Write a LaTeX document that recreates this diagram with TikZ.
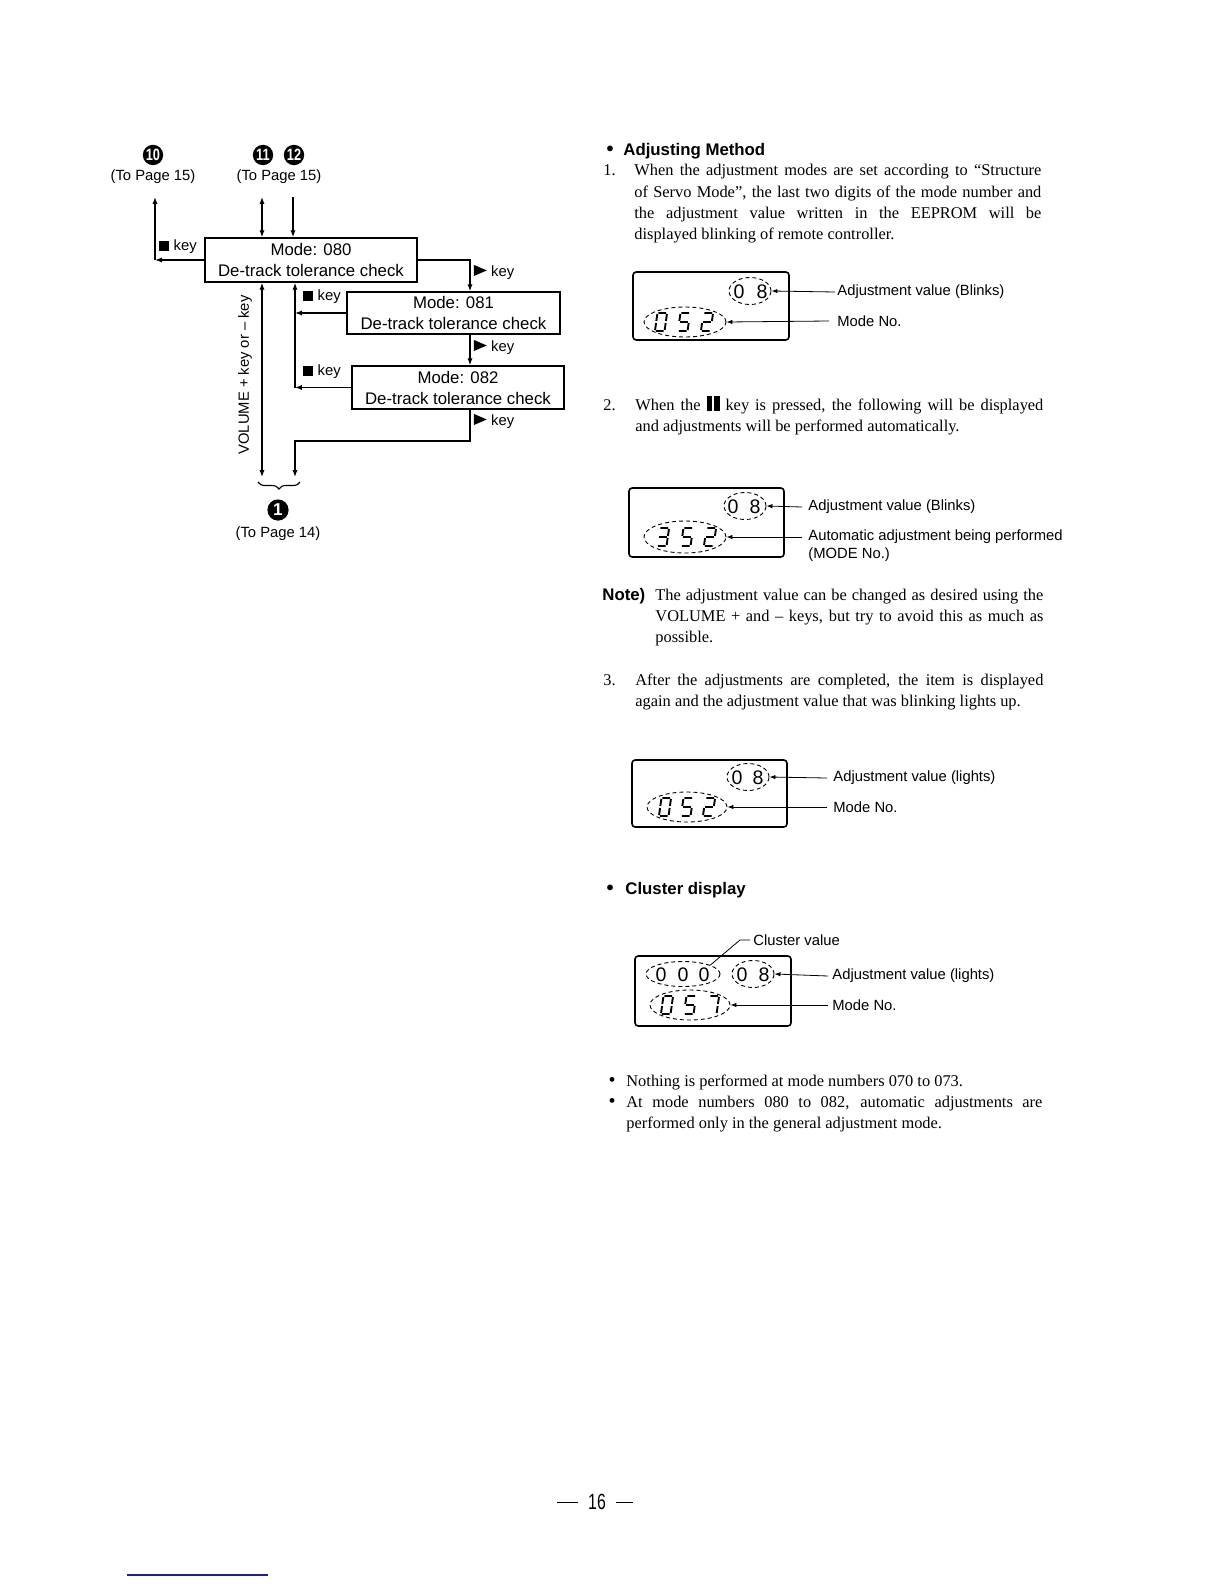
\documentclass[tikz,border=0pt]{standalone}
\usepackage{fontspec}
\setmainfont{Liberation Serif}
\setsansfont{Liberation Sans}
\usetikzlibrary{arrows.meta,decorations.pathreplacing,shapes.geometric}
\definecolor{pageblue}{RGB}{30,30,150}
\newcommand{\fzBody}{\rmfamily\fontsize{8.2}{10.5}\selectfont}
\newcommand{\fzMode}{\sffamily\fontsize{8.4}{10.5}\selectfont}
\newcommand{\fzKey}{\sffamily\fontsize{7.4}{8.5}\selectfont}
\newcommand{\fzLab}{\sffamily\fontsize{7.4}{8.5}\selectfont}
\newcommand{\fzHead}{\sffamily\bfseries\fontsize{8.4}{10}\selectfont}
\newcommand{\fzDig}{\sffamily\fontsize{9.8}{10}\selectfont}
\newcommand{\sqkey}{\rule{5pt}{5pt}\hspace{2.2pt}key}
\newcommand{\playkey}{\tikz[baseline=0pt]\fill (0pt,0pt)--(6.5pt,2.8pt)--(0pt,5.6pt)--cycle;\hspace{2.2pt}key}
\newcommand{\pausesym}{\rule[-0.3pt]{2.8pt}{7.3pt}\hspace{0.9pt}\rule[-0.3pt]{2.8pt}{7.3pt}}
% seven segment pieces (px, y down)
\newcommand{\sgA}{(-3.8,-9)--(3.8,-9)}
\newcommand{\sgB}{(4.8,-8)--(4.8,-1)}
\newcommand{\sgC}{(4.8,1)--(4.8,8)}
\newcommand{\sgD}{(-3.8,9)--(3.8,9)}
\newcommand{\sgE}{(-4.8,1)--(-4.8,8)}
\newcommand{\sgF}{(-4.8,-8)--(-4.8,-1)}
\newcommand{\sgG}{(-3.8,0)--(3.8,0)}
\newcommand{\dgZero}{\sgA \sgB \sgC \sgD \sgE \sgF}
\newcommand{\dgTwo}{\sgA \sgB \sgG \sgE \sgD}
\newcommand{\dgThree}{\sgA \sgB \sgG \sgC \sgD}
\newcommand{\dgFive}{\sgA \sgF \sgG \sgC \sgD}
\newcommand{\dgSeven}{\sgA \sgB \sgC}
\newcommand{\segdig}[3]{\begin{scope}[shift={(#1,#2)},xslant=0.14]\draw[segline] #3;\end{scope}}
\tikzset{
  conn/.style={line width=0.55pt},
  arr/.style={conn,-{Latex[length=3.4pt,width=2.5pt]}},
  dblarr/.style={conn,{Latex[length=3.4pt,width=2.5pt]}-{Latex[length=3.4pt,width=2.5pt]}},
  modebox/.style={draw,line width=0.75pt,inner sep=0pt,align=center,font=\fzMode},
  keylab/.style={font=\fzKey,inner sep=0pt},
  tolab/.style={font=\fzKey,inner sep=0pt},
  blackcirc/.style={circle,fill=black,text=white,inner sep=0pt,font=\sffamily\bfseries\fontsize{8.2}{9}\selectfont},
  txt/.style={font=\fzBody,inner sep=0pt,anchor=base west},
  head/.style={font=\fzHead,inner sep=0pt,anchor=west},
  dispbox/.style={draw,line width=0.8pt,rounded corners=1.6pt,inner sep=0pt},
  dashell/.style={ellipse,draw,dash pattern=on 2pt off 1.5pt,line width=0.45pt,inner sep=0pt},
  digit/.style={font=\fzDig,inner sep=0pt},
  segline/.style={line width=0.95pt,line cap=butt},
  lab/.style={font=\fzLab,inner sep=0pt,anchor=west},
  darr/.style={line width=0.4pt,-{Latex[length=3pt,width=2.2pt]}},
  leader/.style={line width=0.4pt}
}
\begin{document}
\begin{tikzpicture}[x=0.5pt,y=-0.5pt]
\useasboundingbox (0,0) rectangle (1224,1584);
\fill[white] (0,0) rectangle (1224,1584);

% ================= left flow diagram =================
\node[blackcirc,minimum size=10.2pt] (c10) at (153,155) {\scalebox{0.78}[1]{10}};
\node[tolab] (tp10) at (153,177) {(To Page 15)};
\node[blackcirc,minimum size=10.2pt] (c11) at (263,155) {\scalebox{0.78}[1]{11}};
\node[blackcirc,minimum size=10.2pt] (c12) at (294,155) {\scalebox{0.78}[1]{12}};
\node[tolab] (tp11) at (279,177) {(To Page 15)};

\node[modebox,minimum width=106pt,minimum height=22pt] (m80) at (311,260) {Mode: 080\\De-track tolerance check};
\node[modebox,minimum width=106.5pt,minimum height=21pt] (m81) at (453.5,313) {Mode: 081\\De-track tolerance check};
\node[modebox,minimum width=106pt,minimum height=21.5pt] (m82) at (458,387.5) {Mode: 082\\De-track tolerance check};

\node[keylab] (k1) at (178,247) {\sqkey};
\node[keylab] (k2) at (322,297) {\sqkey};
\node[keylab] (k3) at (322,372) {\sqkey};
\node[keylab] (p1) at (494,272) {\playkey};
\node[keylab] (p2) at (494,347) {\playkey};
\node[keylab] (p3) at (494,421) {\playkey};

\coordinate (k10) at (155,260);
\coordinate (t10) at (155,197);
\coordinate (t11) at (262,197);
\coordinate (t12) at (293,197);
\coordinate (vx) at (470,260);
\coordinate (lx) at (295,313);
\coordinate (jt) at (470,441);
\coordinate (bt) at (295,477);
\coordinate (vb) at (262,477);

\draw[arr] (m80.west) -- (k10);
\draw[arr] (k10) -- (t10);
\draw[dblarr] (t11) -- (t11 |- m80.north);
\draw[arr] (t12) -- (t12 |- m80.north);
\draw[arr] (m80.east) -- (vx) -- (vx |- m81.north);
\draw[arr] (vx |- m81.south) -- (vx |- m82.north);
\draw[arr] (m81.west) -- (m81.west -| lx);
\draw[arr] (m82.west) -- (m82.west -| lx);
\draw[arr] (m82.west -| lx) -- (lx |- m80.south);
\draw[arr] (vx |- m82.south) -- (jt) -- (jt -| lx) -- (bt);
\draw[dblarr] (vb |- m80.south) -- (vb);

\node[keylab,rotate=90] (vol) at (245,375) {VOLUME + key or -- key};
\draw[conn,decorate,decoration={brace,mirror,amplitude=3.5pt}] (258,482) -- (300,482);
\node[blackcirc,minimum size=10.6pt,font=\sffamily\bfseries\fontsize{8.6}{9}\selectfont] (c1) at (278,510) {1};
\node[tolab] (tp14) at (278,534) {(To Page 14)};

% ================= right column =================
\node[font=\sffamily\bfseries\fontsize{10}{10}\selectfont,inner sep=0pt] (b1) at (610,151) {\textbullet};
\node[head] (h1) at (623,151) {Adjusting Method};

\node[txt] (n1) at (603,176) {1.};
\node[txt] (l1a) at (634,176) {\makebox[203.5pt][s]{When the adjustment modes are set according to “Structure}};
\node[txt] (l1b) at (634,197) {\makebox[203.5pt][s]{of Servo Mode”, the last two digits of the mode number and}};
\node[txt] (l1c) at (634,218) {\makebox[203.5pt][s]{the adjustment value written in the EEPROM will be}};
\node[txt] (l1d) at (634,239) {displayed blinking of remote controller.};

% display 1
\node[dispbox,minimum width=78pt,minimum height=34pt] (d1) at (711,306) {};
\node[digit] (d1x) at (739,292) {0};
\node[digit] (d1y) at (762,292) {8};
\node[dashell,minimum width=21pt,minimum height=13.5pt] (e1a) at (750,291) {};
\segdig{661}{322}{\dgZero}
\segdig{684}{322}{\dgFive}
\segdig{707}{322}{\dgTwo}
\node[dashell,minimum width=41pt,minimum height=15pt] (e1b) at (685,322) {};
\node[lab] (a1) at (837,292) {Adjustment value (Blinks)};
\node[lab] (a2) at (837,321) {Mode No.};
\draw[darr] ([xshift=-1pt]a1.west) -- (e1a.east);
\draw[darr] ([xshift=-4pt]a2.west) -- (e1b.east);

\node[txt] (n2) at (603,410) {2.};
\node[txt] (l2a) at (635,410) {\makebox[204pt][s]{When the \pausesym{} key is pressed, the following will be displayed}};
\node[txt] (l2b) at (635,431) {and adjustments will be performed automatically.};

% display 2
\node[dispbox,minimum width=77.5pt,minimum height=34.5pt] (d2) at (706.5,522.5) {};
\node[digit] (d2x) at (733,507) {0};
\node[digit] (d2y) at (755,507) {8};
\node[dashell,minimum width=21pt,minimum height=13.5pt] (e2a) at (745,506) {};
\segdig{663}{537}{\dgThree}
\segdig{687}{537}{\dgFive}
\segdig{710}{537}{\dgTwo}
\node[dashell,minimum width=41pt,minimum height=16pt] (e2b) at (685,537) {};
\node[lab] (b2a) at (808,507) {Adjustment value (Blinks)};
\node[lab] (b2b) at (808,537) {Automatic adjustment being performed};
\node[lab] (b2c) at (808,555) {(MODE No.)};
\draw[darr] ([xshift=-3pt]b2a.west) -- (e2a.east);
\draw[darr] ([xshift=-3pt]b2b.west) -- (e2b.east);

\node[font=\fzHead,inner sep=0pt,anchor=base west] (nt) at (602,600) {Note)};
\node[txt] (l3a) at (655,600) {\makebox[194pt][s]{The adjustment value can be changed as desired using the}};
\node[txt] (l3b) at (655,621) {\makebox[194pt][s]{VOLUME + and -- keys, but try to avoid this as much as}};
\node[txt] (l3c) at (655,642) {possible.};

\node[txt] (n3) at (603,685) {3.};
\node[txt] (l4a) at (635,685) {\makebox[204pt][s]{After the adjustments are completed, the item is displayed}};
\node[txt] (l4b) at (635,706) {again and the adjustment value that was blinking lights up.};

% display 3
\node[dispbox,minimum width=77.5pt,minimum height=33.5pt] (d3) at (709.5,793.5) {};
\node[digit] (d3x) at (737,778) {0};
\node[digit] (d3y) at (758,778) {8};
\node[dashell,minimum width=21pt,minimum height=13.5pt] (e3a) at (748,777) {};
\segdig{665}{807}{\dgZero}
\segdig{687}{807}{\dgFive}
\segdig{709}{807}{\dgTwo}
\node[dashell,minimum width=40pt,minimum height=15pt] (e3b) at (687,807) {};
\node[lab] (c3a) at (833,778) {Adjustment value (lights)};
\node[lab] (c3b) at (833,807) {Mode No.};
\draw[darr] ([xshift=-3pt]c3a.west) -- (e3a.east);
\draw[darr] ([xshift=-3pt]c3b.west) -- (e3b.east);

\node[font=\sffamily\bfseries\fontsize{10}{10}\selectfont,inner sep=0pt] (b2) at (610,890) {\textbullet};
\node[head] (h2) at (625,890) {Cluster display};

% display 4
\node[dispbox,minimum width=78pt,minimum height=35pt] (d4) at (713,991) {};
\node[digit] (d4a) at (661,975) {0};
\node[digit] (d4b) at (683,975) {0};
\node[digit] (d4c) at (704,975) {0};
\node[dashell,minimum width=37pt,minimum height=12.5pt] (e4c) at (683,974) {};
\node[digit] (d4x) at (742,975) {0};
\node[digit] (d4y) at (764,975) {8};
\node[dashell,minimum width=21pt,minimum height=13.5pt] (e4a) at (753,974) {};
\segdig{667}{1005}{\dgZero}
\segdig{690}{1005}{\dgFive}
\segdig{713}{1005}{\dgSeven}
\node[dashell,minimum width=40pt,minimum height=15pt] (e4b) at (690,1005) {};
\node[lab] (f4a) at (832,976) {Adjustment value (lights)};
\node[lab] (f4b) at (832,1005) {Mode No.};
\node[lab] (f4c) at (753,940) {Cluster value};
\coordinate (ck) at (740,940);
\draw[darr] ([xshift=-2pt]f4a.west) -- (e4a.east);
\draw[darr] ([xshift=-2pt]f4b.west) -- (e4b.east);
\draw[leader] (e4c.18) -- (ck) -- ([xshift=-1.5pt]f4c.west);

\node[font=\fontsize{10}{10}\selectfont,inner sep=0pt] (b3) at (612,1082) {\textbullet};
\node[txt] (l5a) at (626,1086) {Nothing is performed at mode numbers 070 to 073.};
\node[font=\fontsize{10}{10}\selectfont,inner sep=0pt] (b4) at (612,1103) {\textbullet};
\node[txt] (l5b) at (626,1107) {\makebox[208pt][s]{At mode numbers 080 to 082, automatic adjustments are}};
\node[txt] (l5c) at (626,1128) {performed only in the general adjustment mode.};

% page number
\node[inner sep=0pt,font=\sffamily\fontsize{11}{12}\selectfont] (pg) at (597,1502) {\scalebox{0.72}[1]{16}};
\draw[line width=0.4pt] ([xshift=-5pt]pg.west) -- ++(-10.5pt,0pt);
\draw[line width=0.4pt] ([xshift=5pt]pg.east) -- ++(8.5pt,0pt);

\draw[pageblue,line width=0.9pt] (127,1575) -- (268,1575);
\end{tikzpicture}
\end{document}
